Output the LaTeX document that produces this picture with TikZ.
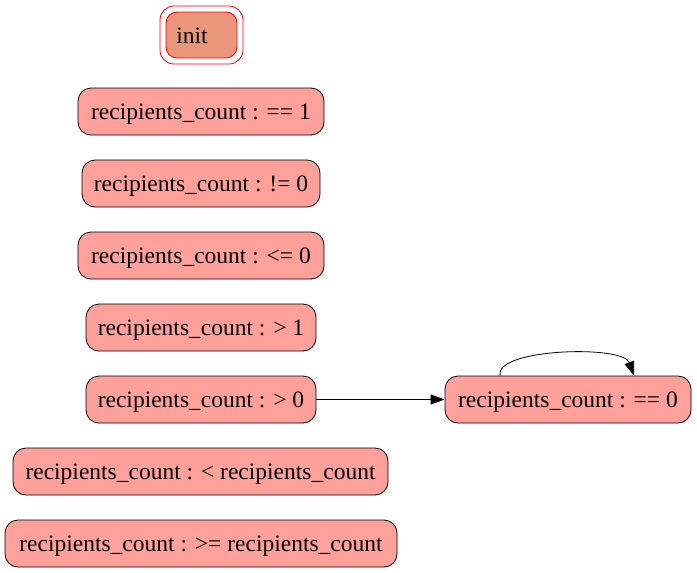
\documentclass[tikz,border=0pt]{standalone}
\usepackage{fontspec}
\setmainfont{Liberation Serif}
\usetikzlibrary{arrows.meta}
\definecolor{nodefill}{HTML}{FFA09A}
\definecolor{initfill}{HTML}{E9967A}
\tikzset{
  state/.style={draw=black, line width=0.8pt, fill=nodefill, rounded corners=13pt, minimum height=47pt, inner sep=0pt, text height=20pt, text depth=5pt, font=\fontsize{23.5}{28}\selectfont},
  initstate/.style={draw=red, line width=0.8pt, fill=initfill, rounded corners=11pt, minimum width=71pt, minimum height=46pt, inner sep=0pt},
  edge/.style={-{Triangle[length=14pt,width=10pt]}, black, line width=0.8pt}
}
\begin{document}
\begin{tikzpicture}[x=1pt,y=-1pt]
\useasboundingbox (0,0) rectangle (697,573);
\draw[red, line width=0.8pt, rounded corners=14pt] (160,6) rectangle (243,64);
\node[initstate] (init) at (201.5,35) {};
\node[font=\fontsize{23.5}{28}\selectfont, inner sep=0pt] (initlabel) at (192,36) {init};
\node[state, minimum width=246pt] (n1) at (201,111.5) {recipients\_count : == 1};
\node[state, minimum width=238pt] (n2) at (201,183.5) {recipients\_count : != 0};
\node[state, minimum width=246pt] (n3) at (201,255.5) {recipients\_count : <= 0};
\node[state, minimum width=230pt] (n4) at (201,327.5) {recipients\_count : > 1};
\node[state, minimum width=230pt] (n5) at (201,399.5) {recipients\_count : > 0};
\node[state, minimum width=375pt] (n6) at (200.5,471.5) {recipients\_count : < recipients\_count};
\node[state, minimum width=392pt] (n7) at (201,543.5) {recipients\_count : >= recipients\_count};
\node[state, minimum width=246pt] (n8) at (568,399.5) {recipients\_count : == 0};
\draw[edge] (n5.east) -- (n8.west);
\draw[edge] ([xshift=-68pt]n8.north) .. controls ([xshift=-74pt,yshift=27pt]n8.north) and ([xshift=55pt,yshift=31pt]n8.north) .. ([xshift=66pt]n8.north);
\end{tikzpicture}
\end{document}
